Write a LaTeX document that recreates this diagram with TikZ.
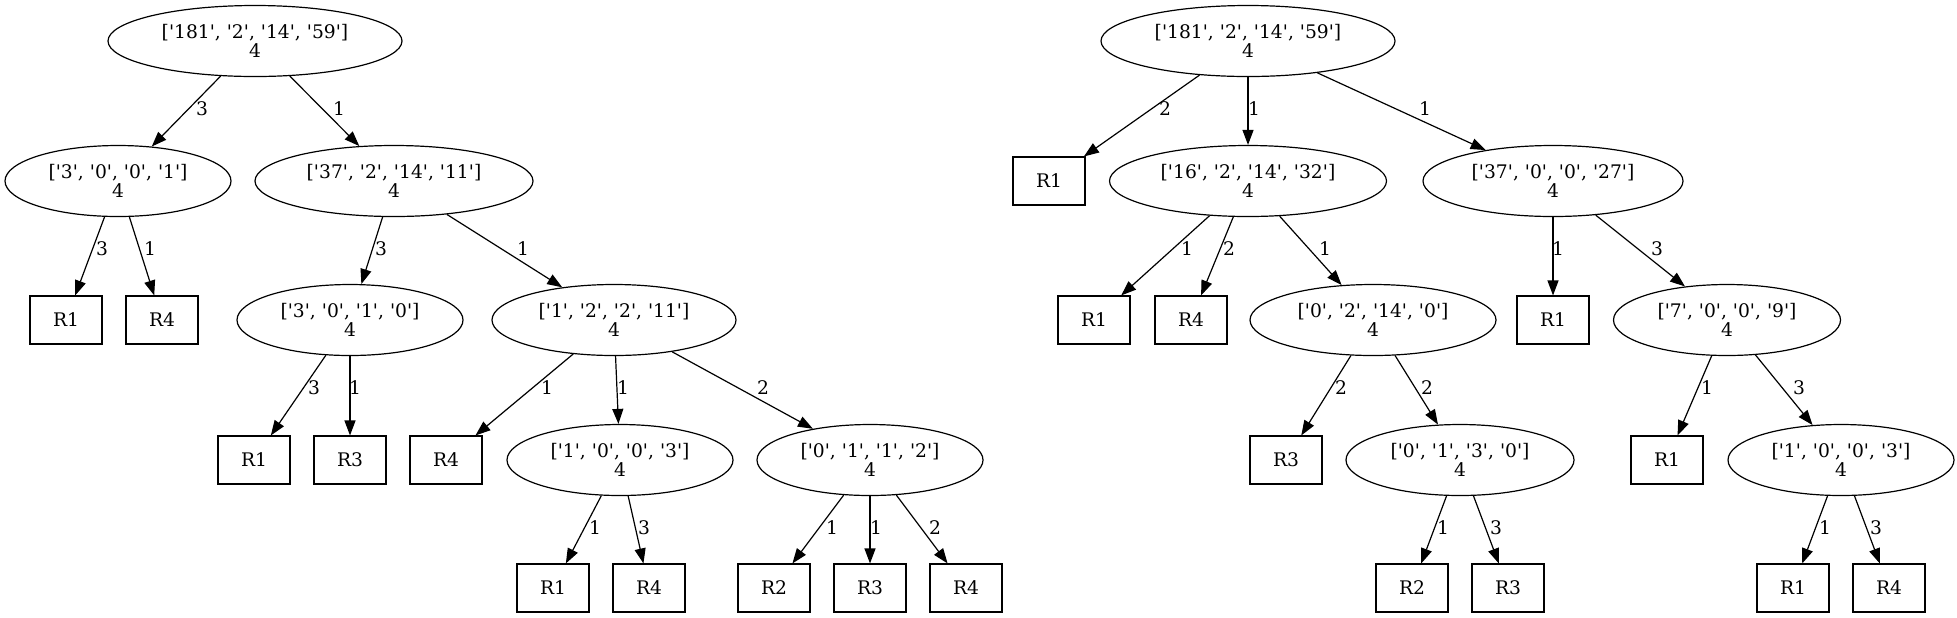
\documentclass[tikz,border=0pt]{standalone}
\usepackage{fontspec}
\newfontfamily\dvs{DejaVu Serif}
\usetikzlibrary{shapes.geometric,arrows.meta}
\begin{document}
\begin{tikzpicture}[x=0.5pt,y=-0.5pt,
  every node/.style={font=\dvs\fontsize{9.35pt}{9.8pt}\selectfont},
  ell/.style={draw,ellipse,line width=0.6pt,inner sep=0pt,minimum height=35.5pt,align=center},
  leaf/.style={draw,rectangle,line width=0.55pt,inner sep=0pt,minimum width=36pt,minimum height=24pt},
  lbl/.style={inner sep=0pt},
  edge/.style={draw,line width=0.6pt,-{Triangle[length=7.5pt,width=5.5pt]}}]
\useasboundingbox (0,0) rectangle (1957,617);
% ---------- left tree ----------
\node[ell,minimum width=147pt] (r1) at (255,41) {['181', '2', '14', '59']\\4};
\node[ell,minimum width=113pt] (a) at (118,181) {['3', '0', '0', '1']\\4};
\node[ell,minimum width=139pt] (b) at (394,181) {['37', '2', '14', '11']\\4};
\node[ell,minimum width=113pt] (c) at (350,320) {['3', '0', '1', '0']\\4};
\node[ell,minimum width=122pt] (d) at (614,320) {['1', '2', '2', '11']\\4};
\node[ell,minimum width=113pt] (e) at (620,460) {['1', '0', '0', '3']\\4};
\node[ell,minimum width=113pt] (f) at (870,460) {['0', '1', '1', '2']\\4};
\node[leaf] (a1) at (66,320) {R1};
\node[leaf] (a2) at (162,320) {R4};
\node[leaf] (c1) at (254,460) {R1};
\node[leaf] (c2) at (350,460) {R3};
\node[leaf] (d1) at (446,460) {R4};
\node[leaf] (e1) at (553,588) {R1};
\node[leaf] (e2) at (649,588) {R4};
\node[leaf] (f1) at (774,588) {R2};
\node[leaf] (f2) at (870,588) {R3};
\node[leaf] (f3) at (966,588) {R4};
\path[edge] (r1) -- (a);
\path[edge] (r1) -- (b);
\path[edge] (a) -- (a1);
\path[edge] (a) -- (a2);
\path[edge] (b) -- (c);
\path[edge] (b) -- (d);
\path[edge] (c) -- (c1);
\path[edge] (c) -- (c2);
\path[edge] (d) -- (d1);
\path[edge] (d) -- (e);
\path[edge] (d) -- (f);
\path[edge] (e) -- (e1);
\path[edge] (e) -- (e2);
\path[edge] (f) -- (f1);
\path[edge] (f) -- (f2);
\path[edge] (f) -- (f3);
\node[lbl] (la1) at (202,109) {3};
\node[lbl] (la2) at (339,109) {1};
\node[lbl] (la3) at (102,249) {3};
\node[lbl] (la4) at (150,249) {1};
\node[lbl] (la5) at (381,249) {3};
\node[lbl] (la6) at (523,249) {1};
\node[lbl] (la7) at (314,388) {3};
\node[lbl] (la8) at (355,388) {1};
\node[lbl] (la9) at (547,388) {1};
\node[lbl] (la10) at (623,388) {1};
\node[lbl] (la11) at (763,388) {2};
\node[lbl] (la12) at (595,528) {1};
\node[lbl] (la13) at (644,528) {3};
\node[lbl] (la14) at (832,528) {1};
\node[lbl] (la15) at (876,528) {1};
\node[lbl] (la16) at (935,528) {2};
% ---------- right tree ----------
\node[ell,minimum width=147pt] (r2) at (1248,41) {['181', '2', '14', '59']\\4};
\node[ell,minimum width=138.5pt] (g) at (1248,181) {['16', '2', '14', '32']\\4};
\node[ell,minimum width=130pt] (h) at (1553,181) {['37', '0', '0', '27']\\4};
\node[ell,minimum width=123pt] (i) at (1373,320) {['0', '2', '14', '0']\\4};
\node[ell,minimum width=113.5pt] (j) at (1727,320) {['7', '0', '0', '9']\\4};
\node[ell,minimum width=114pt] (k) at (1460,460) {['0', '1', '3', '0']\\4};
\node[ell,minimum width=113pt] (l) at (1841,460) {['1', '0', '0', '3']\\4};
\node[leaf] (b1) at (1049,181) {R1};
\node[leaf] (g1) at (1094,320) {R1};
\node[leaf] (g2) at (1191,320) {R4};
\node[leaf] (h1) at (1553,320) {R1};
\node[leaf] (i1) at (1286,460) {R3};
\node[leaf] (j1) at (1667,460) {R1};
\node[leaf] (k1) at (1412,588) {R2};
\node[leaf] (k2) at (1508,588) {R3};
\node[leaf] (l1) at (1793,588) {R1};
\node[leaf] (l2) at (1889,588) {R4};
\path[edge] (r2) -- (b1);
\path[edge] (r2) -- (g);
\path[edge] (r2) -- (h);
\path[edge] (g) -- (g1);
\path[edge] (g) -- (g2);
\path[edge] (g) -- (i);
\path[edge] (h) -- (h1);
\path[edge] (h) -- (j);
\path[edge] (i) -- (i1);
\path[edge] (i) -- (k);
\path[edge] (j) -- (j1);
\path[edge] (j) -- (l);
\path[edge] (k) -- (k1);
\path[edge] (k) -- (k2);
\path[edge] (l) -- (l1);
\path[edge] (l) -- (l2);
\node[lbl] (lb1) at (1165,109) {2};
\node[lbl] (lb2) at (1254,109) {1};
\node[lbl] (lb3) at (1425,109) {1};
\node[lbl] (lb4) at (1187,249) {1};
\node[lbl] (lb5) at (1229,249) {2};
\node[lbl] (lb6) at (1325,249) {1};
\node[lbl] (lb7) at (1558,249) {1};
\node[lbl] (lb8) at (1657,249) {3};
\node[lbl] (lb9) at (1341,388) {2};
\node[lbl] (lb10) at (1427,388) {2};
\node[lbl] (lb11) at (1707,388) {1};
\node[lbl] (lb12) at (1799,388) {3};
\node[lbl] (lb13) at (1443,528) {1};
\node[lbl] (lb14) at (1496,528) {3};
\node[lbl] (lb15) at (1825,528) {1};
\node[lbl] (lb16) at (1876,528) {3};
\end{tikzpicture}
\end{document}
